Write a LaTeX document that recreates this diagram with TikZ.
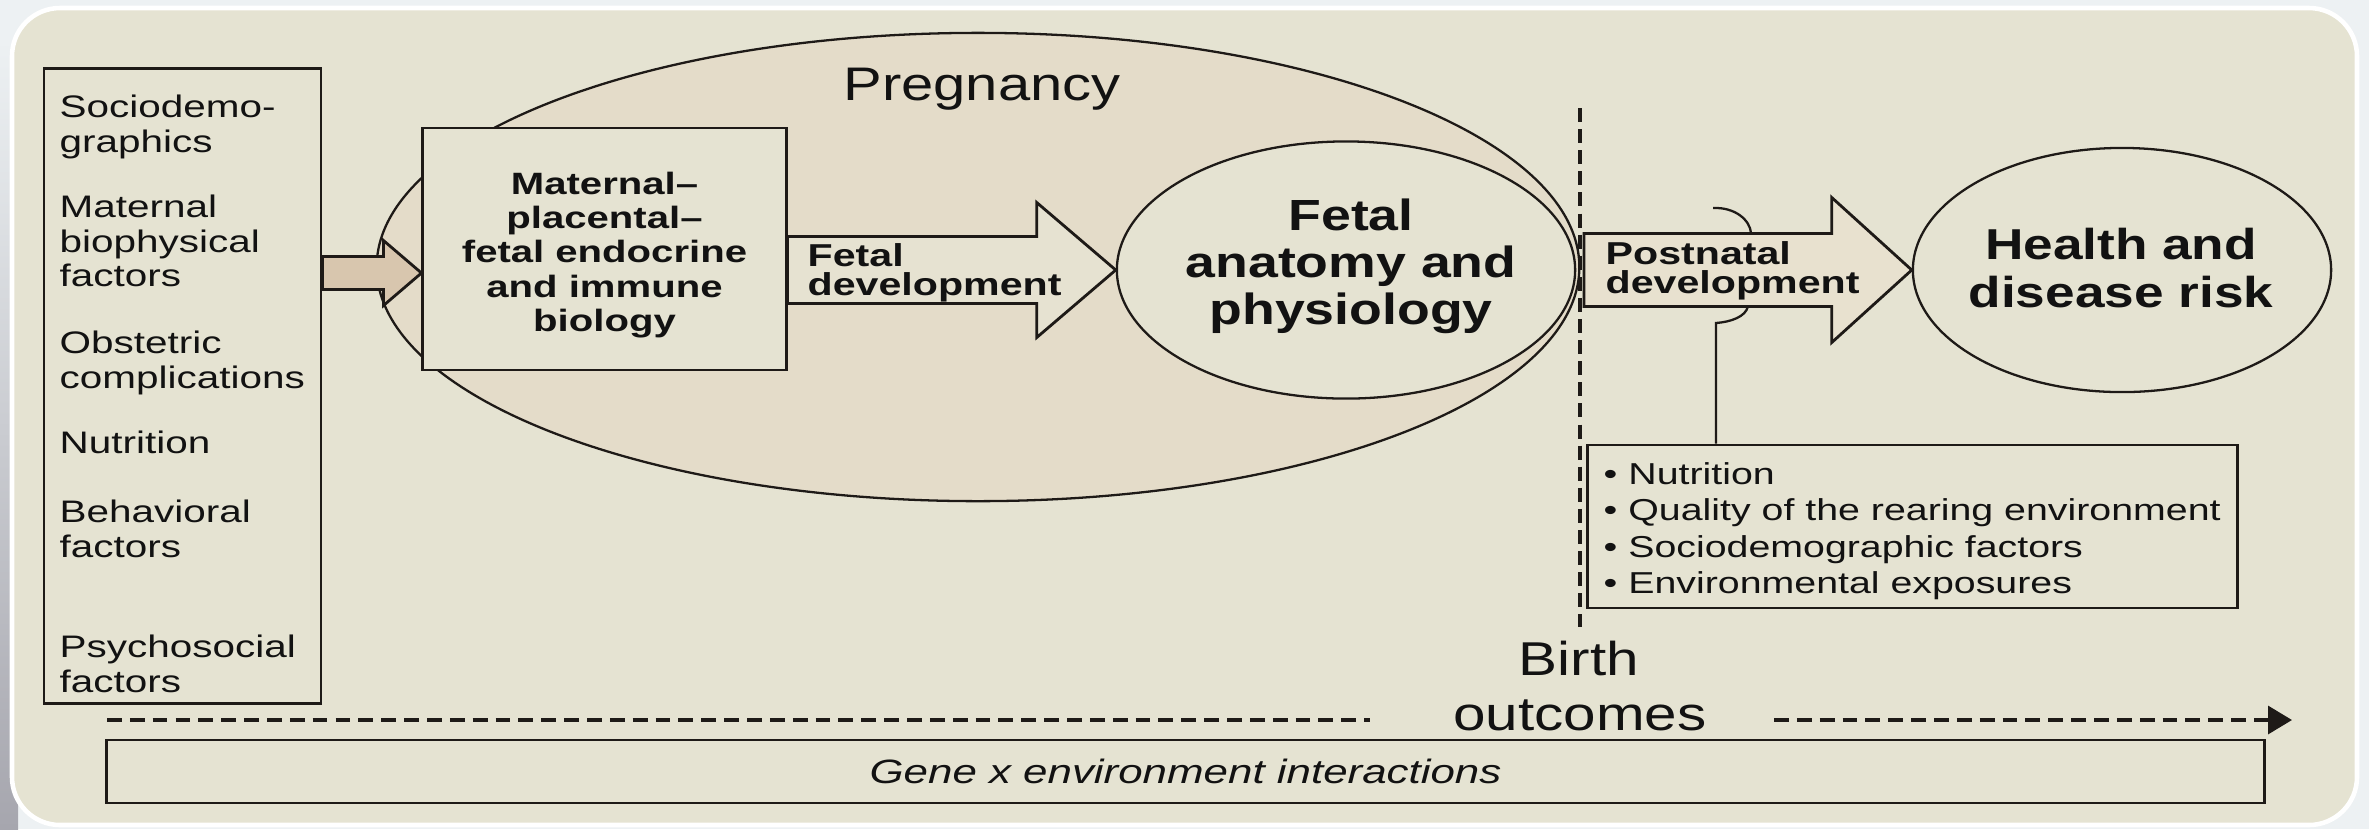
\documentclass[tikz,border=0pt]{standalone}
\usepackage{fontspec}
\setmainfont{Liberation Sans}[FakeStretch=1.3]
\newfontfamily\bigsans{Liberation Sans}[FakeStretch=1.23]
\usetikzlibrary{calc,shapes.geometric,arrows.meta}
\definecolor{bgout}{HTML}{EDF1F3}
\definecolor{shadow}{HTML}{A6A6AE}
\definecolor{panel}{HTML}{E5E3D2}
\definecolor{preg}{HTML}{E4DCC9}
\definecolor{tanfill}{HTML}{D8C6AE}
\definecolor{ink}{HTML}{1E1A17}
\definecolor{pale}{HTML}{E6E2D1}
\definecolor{postfill}{HTML}{E8E1CF}
\definecolor{txt}{HTML}{121212}
\newcommand{\blockarr}[6]{%
  \path[#1] ($(#2)+(0,-#4)$) -- ($(#3)+(-#6,-#4)$) -- ($(#3)+(-#6,-#5)$) -- (#3)
     -- ($(#3)+(-#6,#5)$) -- ($(#3)+(-#6,#4)$) -- ($(#2)+(0,#4)$) -- cycle;}
\tikzset{
  ln/.style={draw=ink, line width=0.8pt},
  elln/.style={draw=ink, line width=0.65pt, ellipse, inner sep=0pt},
  boxn/.style={draw=ink, line width=0.8pt, rectangle, inner sep=0pt},
  leftf/.style={font=\fontsize{8.85}{9.8}\selectfont, text=txt, inner sep=0pt, align=left, anchor=north west},
  matf/.style={font=\bfseries\fontsize{8.77}{9.7}\selectfont, text=txt, inner sep=0pt, align=center},
  devf/.style={font=\bfseries\fontsize{9.0}{8.1}\selectfont, text=txt, inner sep=0pt, align=left, anchor=west},
  listf/.style={font=\fontsize{8.6}{10.4}\selectfont, text=txt, inner sep=0pt, align=left, anchor=north west},
  bigbold/.style={font=\bigsans\bfseries\fontsize{12.4}{13.4}\selectfont, text=txt, inner sep=0pt, align=center},
  bigreg/.style={font=\bigsans\fontsize{13.4}{15}\selectfont, text=txt, inner sep=0pt, anchor=base},
  genef/.style={font=\itshape\fontsize{9.6}{11}\selectfont, text=txt},
  vdash/.style={draw=ink, line width=1pt, dash pattern=on 4pt off 2pt},
  tline/.style={draw=ink, line width=0.95pt, dash pattern=on 4.2pt off 2.3pt}
}
\begin{document}
\begin{tikzpicture}[x=0.01cm,y=-0.01cm]
\useasboundingbox (0,0) rectangle (2369,829);
\fill[bgout] (0,0) rectangle (2369,829);
\shade[top color=bgout, bottom color=shadow] (0,40) rectangle (18,829);
% panel
\filldraw[fill=panel, draw=white, line width=1.3pt, rounded corners=0.48cm] (12,8) rectangle (2357,825);

% pregnancy ellipse
\node[elln, fill=preg, minimum width=12.02cm, minimum height=4.68cm] (preg) at (978,267) {};
% fetal anatomy ellipse
\node[elln, fill=panel, minimum width=4.58cm, minimum height=2.57cm] (fan) at (1346,270) {};
% maternal box
\node[boxn, fill=panel, minimum width=3.63cm, minimum height=2.42cm] (mat) at (604.5,249) {};
% left box
\node[boxn, fill=panel, minimum width=2.77cm, minimum height=6.34cm] (lbox) at (182.5,386) {};

% small arrow
\coordinate (a1tip) at ($(mat.west)+(0,24)$);
\coordinate (a1tail) at (lbox.east |- a1tip);
\blockarr{fill=tanfill, ln}{a1tail}{a1tip}{16.5}{32.5}{38}

% fetal development arrow
\coordinate (fdtail) at (mat.east |- fan.west);
\blockarr{fill=pale, ln}{fdtail}{fan.west}{33.5}{67.5}{79}

% birth dashed line
\coordinate (btop) at (1580,108);
\coordinate (bbot) at (1580,627);
\draw[vdash] (btop) -- (bbot);

% health ellipse
\node[elln, fill=panel, minimum width=4.18cm, minimum height=2.44cm] (hdr) at (2122,270) {};

% postnatal arrow
\coordinate (pntail) at ($(btop |- hdr.west)+(4,0)$);
\blockarr{fill=postfill, ln}{pntail}{hdr.west}{36.5}{72.5}{80}

% factor box
\node[boxn, fill=panel, minimum width=6.49cm, minimum height=1.63cm] (fbox) at (1912.5,526.5) {};

% bracket
\coordinate (brs) at (1713,208);
\coordinate (bre) at (1751,233);
\coordinate (brb) at (1748,306);
\coordinate (brj) at (1716,323);
\draw[ln, line width=0.65pt] (brs) .. controls (1735,207) and (1750,220) .. (bre);
\draw[ln, line width=0.65pt] (brb) .. controls (1746,317) and (1730,322) .. (brj) -- (brj |- fbox.north);

% timeline
\coordinate (tl0) at (107,720);
\coordinate (tl1) at (1370,720);
\coordinate (tl2) at (1774,720);
\coordinate (tl3) at (2292,720);
\draw[tline] (tl0) -- (tl1);
\draw[tline, -{Triangle[length=0.24cm, width=0.28cm]}] (tl2) -- (tl3);

% gene box
\node[boxn, fill=panel, minimum width=21.57cm, minimum height=0.63cm, genef] (gene) at (1185.5,771.5) {Gene x environment interactions};

% texts
\node[leftf] (t1) at (59,94.5) {Sociodemo-\\graphics};
\node[leftf] (t2) at (59,194.5) {Maternal\\biophysical\\factors};
\node[leftf] (t3) at (59,330.5) {Obstetric\\complications};
\node[leftf] (t4) at (59,430.5) {Nutrition};
\node[leftf] (t5) at (59,499.5) {Behavioral\\factors};
\node[leftf] (t6) at (59,634.5) {Psychosocial\\factors};

\node[matf] (mtxt) at (604.5,255) {Maternal–\\placental–\\fetal endocrine\\and immune\\biology};
\node[devf] (fdtxt) at (807,273) {Fetal\\development};
\node[bigbold] (fantxt) at (1351,266.5) {Fetal\\anatomy and\\physiology};
\node[devf] (pntxt) at (1605,271) {Postnatal\\development};
\node[bigbold, font=\bigsans\bfseries\fontsize{12.3}{13.65}\selectfont] (hdrtxt) at (2121,268) {Health and\\disease risk};
\node[listf] (ftxt) at (1603,461.5) {• Nutrition\\• Quality of the rearing environment\\• Sociodemographic factors\\• Environmental exposures};

\node[bigreg] (pregtxt) at (982,100) {Pregnancy};
\node[bigreg, font=\bigsans\fontsize{13.5}{15}\selectfont] (birthtxt) at (1579,675) {Birth};
\node[bigreg, font=\bigsans\fontsize{13.5}{15}\selectfont] (outctxt) at (1580,730) {outcomes};
\end{tikzpicture}
\end{document}
